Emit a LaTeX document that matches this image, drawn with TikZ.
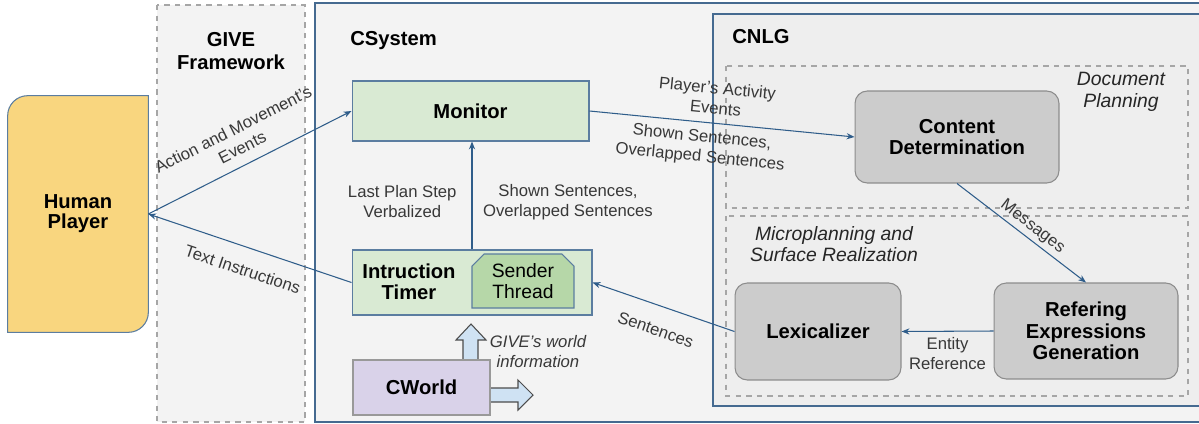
\documentclass[tikz,border=0pt]{standalone}
\usepackage{fontspec}
\setmainfont{Liberation Sans}
\usepackage{xcolor}
\usetikzlibrary{shapes.misc,arrows.meta,backgrounds}
\definecolor{humanfill}{HTML}{F9D67F}
\definecolor{greenfillv1}{HTML}{D9EAD3}
\definecolor{greenfillv2}{HTML}{B6D7A8}
\definecolor{purplefill}{HTML}{D9D2E9}
\definecolor{grayfill}{HTML}{CCCCCC}
\definecolor{bluefill}{HTML}{CFE2F3}
\definecolor{framefill}{HTML}{F3F3F3}
\definecolor{cnlgfill}{HTML}{EEEEEE}
\definecolor{blueline}{HTML}{5B7DA0}
\definecolor{darkblueline}{HTML}{456A90}
\definecolor{edgeblue}{HTML}{2F5D8A}
\definecolor{labelgray}{HTML}{383838}
\tikzset{
humanbox/.style={rectangle, draw=none, fill=none, inner sep=0pt, align=center, font=\fontsize{11.5}{11.5}\selectfont\bfseries},
humanshape/.style={draw=blueline, fill=humanfill, line width=0.6pt},
greenboxv1/.style={rectangle, draw=blueline, fill=greenfillv1, line width=0.6pt, inner sep=0pt, align=center, font=\fontsize{11.5}{12.2}\selectfont\bfseries},
greenboxv2/.style={chamfered rectangle, chamfered rectangle corners={north west,north east}, chamfered rectangle xsep=0.12cm, chamfered rectangle ysep=0.12cm, draw=blueline, fill=greenfillv2, line width=0.6pt, inner sep=0pt, align=center, font=\fontsize{11}{12.2}\selectfont},
purplebox/.style={rectangle, draw=black!40, fill=purplefill, line width=0.6pt, inner sep=0pt, align=center, font=\fontsize{11.5}{12.2}\selectfont\bfseries},
graybox/.style={rectangle, rounded corners=7pt, draw=black!45, fill=grayfill, line width=0.6pt, inner sep=0pt, align=center, font=\fontsize{11.5}{12.2}\selectfont\bfseries},
boldtext/.style={inner sep=0pt, align=center, font=\fontsize{11.5}{12.2}\selectfont\bfseries},
titletext/.style={inner sep=0pt, align=center, font=\fontsize{11.5}{13}\selectfont\bfseries},
italictext/.style={inner sep=0pt, align=center, text=black!85, font=\fontsize{11}{12.3}\selectfont\itshape},
edgelabel/.style={inner sep=2pt, align=center, text=labelgray, font=\fontsize{9.5}{11.4}\selectfont},
flowline/.style={draw=edgeblue, line width=0.6pt, -{Stealth[length=4.5pt,width=3.5pt]}},
flowback/.style={draw=edgeblue, line width=0.6pt, {Stealth[length=4.5pt,width=3.5pt]}-},
givebox/.style={draw=black!35, dashed, fill=framefill, line width=0.6pt},
systembox/.style={draw=darkblueline, fill=framefill, line width=0.8pt},
cnlgbox/.style={draw=darkblueline, fill=cnlgfill, line width=0.8pt},
stagebox/.style={draw=black!35, dashed, line width=0.6pt},
blockarrow/.style={draw=black!70, fill=bluefill, line width=0.6pt},
}
\begin{document}
\begin{tikzpicture}[x=0.02cm,y=-0.02cm]
\useasboundingbox (0,0) rectangle (1199,423);
% frames
\draw[givebox] (157,5) rectangle (305,422);
\draw[systembox] (315,3) rectangle (1215,422);
\draw[cnlgbox] (713,14) rectangle (1215,406);
\draw[stagebox] (726,66) rectangle (1188,208);
\draw[stagebox] (726,216) rectangle (1188,396);
\node[titletext] at (231,51) (givetitle) {GIVE\\Framework};
\node[titletext, anchor=base west] at (350,45) (systemtitle) {CSystem};
\node[titletext, anchor=base west] at (732,43) (cnlgtitle) {CNLG};
\node[italictext] at (1121,92) (docplanning) {Document\\Planning};
\node[italictext] at (834,244) (microplanning) {Microplanning and\\Surface Realization};
% block arrows
\draw[blockarrow] (463,360) -- (463,340) -- (456,340) -- (471,324) -- (486,340) -- (478,340) -- (478,360) -- cycle;
\draw[blockarrow] (488,388) -- (518,388) -- (518,380) -- (533,395) -- (518,410) -- (518,402) -- (488,402) -- cycle;
\node[edgelabel, font=\fontsize{9.5}{11.4}\selectfont\itshape] at (538,352) (worldinfo) {GIVE's world\\information};
% boxes
\node[humanbox, minimum width=2.8cm, minimum height=4.72cm] at (78,214) (human) {Human\\Player};
\begin{scope}[on background layer]
\draw[humanshape] (human.north east) -- ([yshift=0.4cm]human.south east) arc[start angle=0, end angle=-90, radius=0.4cm] -- (human.south west) -- ([yshift=-0.4cm]human.north west) arc[start angle=180, end angle=90, radius=0.4cm] -- cycle;
\end{scope}
\node[greenboxv1, minimum width=4.74cm, minimum height=1.2cm] at (470.5,111) (monitor) {Monitor};
\node[greenboxv1, minimum width=4.8cm, minimum height=1.3cm] at (472,282.5) (timer) {};
\node[boldtext] at (409,282) (timerlabel) {Intruction\\Timer};
\node[greenboxv2, minimum width=2.04cm, minimum height=1.08cm] at (523,281) (sender) {Sender\\Thread};
\node[purplebox, minimum width=2.74cm, minimum height=1.1cm] at (421.5,387.5) (cworld) {CWorld};
\node[graybox, minimum width=4.08cm, minimum height=1.84cm] at (957,137) (content) {Content\\Determination};
\node[graybox, minimum width=3.32cm, minimum height=1.94cm] at (818,331.5) (lexi) {Lexicalizer};
\node[graybox, minimum width=3.68cm, minimum height=1.92cm] at (1086,331) (reg) {Refering\\Expressions\\Generation};
% connectors
\draw[flowline] (human.east) to node[edgelabel, midway, sloped, above=4pt] (actionlabel) {Action and Movement's\\Events} (monitor.west);
\draw[flowback] (human.east) to node[edgelabel, midway, sloped, below=7pt] (textlabel) {Text Instructions} (timer.west);
\draw[flowline] (monitor.east) to node[edgelabel, pos=0.47, sloped, above=3pt] (activitylabel) {Player's Activity\\Events} node[edgelabel, pos=0.43, sloped, below=2pt] (shownlabelv1) {Shown Sentences,\\Overlapped Sentences} (content.west);
\draw[flowline] (timer.north) to node[edgelabel, pos=0.44, left=6.5pt] (steplabel) {Last Plan Step\\Verbalized} node[edgelabel, pos=0.44, right=4pt] (shownlabelv2) {Shown Sentences,\\Overlapped Sentences} (timer.north |- monitor.south);
\draw[flowback] (timer.east) to node[edgelabel, midway, sloped, below=8pt] (sentenceslabel) {Sentences} (lexi.west);
\draw[flowline] (content.south) to node[edgelabel, pos=0.53, sloped, above] (messageslabel) {Messages} (reg.north);
\draw[flowback] (lexi.east) to node[edgelabel, midway, below=1pt] (entitylabel) {Entity\\Reference} (reg.west);
\end{tikzpicture}
\end{document}
